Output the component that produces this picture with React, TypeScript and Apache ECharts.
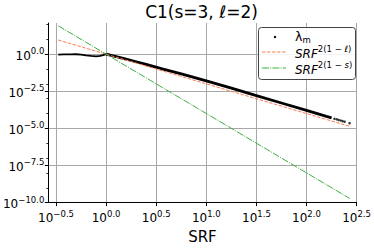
import React, { useEffect, useRef } from 'react';
import * as echarts from 'echarts';

// Tick positions (log10 exponents)
const xTicks = [-0.5, 0, 0.5, 1, 1.5, 2, 2.5];
const yTicks = [-10, -7.5, -5, -2.5, 0];
const yMinorTicks = [-9, -8, -7, -6, -4, -3, -2, -1, 1, 2];

// λm values: SRF <= 1 part
const srfLow = [0.333, 0.38, 0.437, 0.501, 0.562, 0.631, 0.708, 0.794, 0.871, 0.933, 1.0];
const lambdaLow = [0.93, 0.955, 0.98, 0.99, 0.94, 0.84, 0.76, 0.72, 0.76, 0.87, 1.0];
// λm values: SRF >= 1 dense part
const srfHigh = [1.0, 1.26, 1.585, 1.995, 2.51, 3.63, 5.75, 10, 17.8, 31.6, 56.2, 100, 158, 178];
const lambdaHigh = [1.0, 0.676, 0.457, 0.309, 0.204, 0.102, 0.0457, 0.0158, 0.00513, 0.00162, 0.000513, 0.000162, 0.0000646, 0.0000513];
// λm sparse tail
const tailSrf = [190, 200, 209, 219, 229, 240, 269];
const tailLambda = [4.47e-5, 4.07e-5, 3.72e-5, 3.39e-5, 3.09e-5, 2.82e-5, 2.24e-5];

// Reference power lines
const refSrf = [0.333, 270];
const srfPow2 = [9.0, 1.37e-5];
const srfPow4 = [81, 1.9e-10];

const FONT = 'DejaVu Sans';

const fmtExp = (v: number) => {
  const r = Math.round(v * 10) / 10;
  return r.toFixed(1).replace('-', '\u2212');
};

const tickRich = {
  b: { fontSize: 12, lineHeight: 15, fontFamily: FONT, color: '#000', verticalAlign: 'bottom' as const },
  s: { fontSize: 8.5, lineHeight: 10, fontFamily: FONT, color: '#000', verticalAlign: 'top' as const },
};

const toLog = (xs: number[], ys: number[]) => xs.map((x, i) => [Math.log10(x), Math.log10(ys[i])]);

export default function App() {
  const ref = useRef<HTMLDivElement>(null);
  useEffect(() => {
    if (!ref.current) return;
    const chart = echarts.init(ref.current, undefined, { renderer: 'svg' });
    const option: any = {
      animation: false,
      backgroundColor: '#fff',
      grid: { left: 43, right: 14, top: 23, bottom: 36, containLabel: false },
      xAxis: {
        type: 'value',
        min: -0.577,
        max: 2.5,
        splitNumber: 6,
        name: 'SRF',
        nameLocation: 'middle',
        nameGap: 18,
        nameTextStyle: { fontSize: 15, fontFamily: FONT, color: '#000' },
        axisLine: { show: true, onZero: false, lineStyle: { color: '#000', width: 1 } },
        axisTick: { show: true, length: 3.5, customValues: xTicks, lineStyle: { color: '#000', width: 1 } },
        axisLabel: {
          customValues: xTicks,
          margin: 6.5,
          formatter: (v: number) => `{b|10}{s|${fmtExp(v)}}`,
          rich: tickRich,
        },
        splitLine: { show: true, lineStyle: { color: '#a8a8a8', width: 1 } },
      },
      yAxis: [
        {
          type: 'value',
          min: -10,
          max: 2.1,
          axisLine: { show: true, onZero: false, lineStyle: { color: '#000', width: 1 } },
          axisTick: { show: true, length: 3.5, customValues: yTicks, lineStyle: { color: '#000', width: 1 } },
          axisLabel: {
            customValues: yTicks,
            margin: 4,
            formatter: (v: number) => `{b|10}{s|${fmtExp(v)}}`,
            rich: tickRich,
          },
          splitLine: { show: true, lineStyle: { color: '#a8a8a8', width: 1 } },
        },
        {
          type: 'value',
          min: -10,
          max: 2.1,
          position: 'left',
          axisLine: { show: false, onZero: false },
          axisTick: { show: true, length: 2, customValues: yMinorTicks, lineStyle: { color: '#000', width: 0.8 } },
          axisLabel: { show: false },
          splitLine: { show: false },
        },
      ],
      series: [
        {
          type: 'line',
          data: toLog(srfLow, lambdaLow),
          showSymbol: false,
          lineStyle: { color: '#000', width: 1.8 },
          z: 2,
        },
        {
          type: 'line',
          data: toLog(srfHigh, lambdaHigh),
          showSymbol: false,
          lineStyle: { color: '#000', width: 2.8 },
          z: 2,
        },
        {
          type: 'scatter',
          data: toLog(tailSrf, tailLambda),
          symbolSize: 2.5,
          itemStyle: { color: '#000' },
          z: 2,
        },
        {
          type: 'line',
          data: toLog(refSrf, srfPow2),
          showSymbol: false,
          lineStyle: { color: '#fa7b52', width: 1, type: [3.5, 1.5] },
          z: 3,
        },
        {
          type: 'line',
          data: toLog(refSrf, srfPow4),
          showSymbol: false,
          lineStyle: { color: '#3cb043', width: 1, type: [7, 1.2, 1, 1.2] },
          z: 4,
        },
      ],
      graphic: [
        {
          type: 'text',
          x: 201.5,
          y: 12,
          style: {
            text: '{n|C1(s=3, }{i|\u2113}{n|=2)}',
            align: 'center',
            verticalAlign: 'middle',
            rich: {
              n: { fontSize: 17, fontFamily: FONT, color: '#000' },
              i: { fontSize: 17, fontFamily: FONT, fontStyle: 'italic', color: '#000' },
            },
          },
        },
        {
          type: 'rect',
          shape: { x: 258.5, y: 27.5, width: 97, height: 52, r: 3 },
          style: { fill: 'rgba(255,255,255,0.85)', stroke: '#444', lineWidth: 1 },
          z: 10,
        },
        { type: 'circle', shape: { cx: 275, cy: 37, r: 1.2 }, style: { fill: '#000' }, z: 11 },
        {
          type: 'text', x: 295, y: 37, z: 11,
          style: {
            text: '{a|\u03bb}{m|m}', align: 'left', verticalAlign: 'middle',
            rich: {
              a: { fontSize: 12.5, lineHeight: 14, fontFamily: FONT, color: '#000', verticalAlign: 'top' },
              m: { fontSize: 8.5, lineHeight: 9, fontFamily: FONT, color: '#000', verticalAlign: 'bottom' },
            },
          },
        },
        {
          type: 'line', shape: { x1: 262, y1: 52, x2: 286, y2: 52 }, z: 11,
          style: { stroke: '#fa7b52', lineWidth: 1, lineDash: [3.5, 1.5] },
        },
        {
          type: 'text', x: 295, y: 52, z: 11,
          style: {
            text: '{a|SRF}{b|2(1 \u2212 }{c|\u2113}{b|)}', align: 'left', verticalAlign: 'middle',
            rich: {
              a: { fontSize: 12, lineHeight: 15, fontFamily: FONT, fontStyle: 'italic', color: '#000', verticalAlign: 'bottom' },
              b: { fontSize: 8.5, lineHeight: 10, fontFamily: FONT, color: '#000', verticalAlign: 'top' },
              c: { fontSize: 8.5, lineHeight: 10, fontFamily: FONT, fontStyle: 'italic', color: '#000', verticalAlign: 'top' },
            },
          },
        },
        {
          type: 'line', shape: { x1: 262, y1: 68, x2: 286, y2: 68 }, z: 11,
          style: { stroke: '#3cb043', lineWidth: 1, lineDash: [7, 1.2, 1, 1.2] },
        },
        {
          type: 'text', x: 295, y: 68, z: 11,
          style: {
            text: '{a|SRF}{b|2(1 \u2212 }{c|s}{b|)}', align: 'left', verticalAlign: 'middle',
            rich: {
              a: { fontSize: 12, lineHeight: 15, fontFamily: FONT, fontStyle: 'italic', color: '#000', verticalAlign: 'bottom' },
              b: { fontSize: 8.5, lineHeight: 10, fontFamily: FONT, color: '#000', verticalAlign: 'top' },
              c: { fontSize: 8.5, lineHeight: 10, fontFamily: FONT, fontStyle: 'italic', color: '#000', verticalAlign: 'top' },
            },
          },
        },
      ],
    };
    chart.setOption(option);
    return () => chart.dispose();
  }, []);
  return <div ref={ref} style={{ position: 'fixed', left: 0, top: 0, width: 374, height: 249 }} />;
}
